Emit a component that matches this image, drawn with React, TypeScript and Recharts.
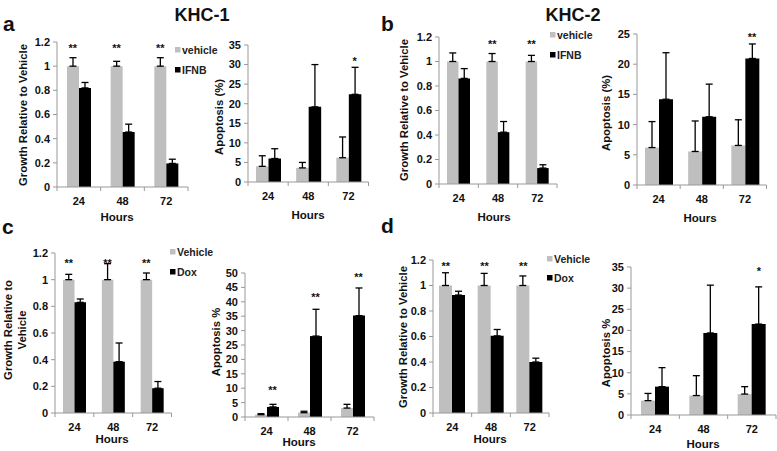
import React from "react";
import { Bar, ComposedChart, ErrorBar, Line, XAxis, YAxis } from "recharts";

const FONT = "'Liberation Sans', Arial, sans-serif";

const hours = ["24", "48", "72"];
const growthTicks = [0, 0.2, 0.4, 0.6, 0.8, 1, 1.2];
const ticks35 = [0, 5, 10, 15, 20, 25, 30, 35];
const ticks25 = [0, 5, 10, 15, 20, 25];
const ticks50 = [0, 5, 10, 15, 20, 25, 30, 35, 40, 45, 50];

// a: KHC-1, IFNB
const aGrowthVehicle = [1, 1, 1];
const aGrowthVehicleErr = [0.07, 0.04, 0.07];
const aGrowthIfnb = [0.82, 0.455, 0.195];
const aGrowthIfnbErr = [0.045, 0.065, 0.035];
const aGrowthStars = ["**", "**", "**"];
const aGrowthStarAt = [1.17, 1.17, 1.17];

const aApopVehicle = [4, 3.6, 6.2];
const aApopVehicleErr = [2.7, 1.4, 5.3];
const aApopIfnb = [6, 19.2, 22.4];
const aApopIfnbErr = [2.5, 10.8, 6.9];
const aApopStars = ["", "", "*"];
const aApopStarAt = [null, null, 31.5];

// b: KHC-2, IFNB
const bGrowthVehicle = [1, 1, 1];
const bGrowthVehicleErr = [0.07, 0.065, 0.05];
const bGrowthIfnb = [0.862, 0.423, 0.13];
const bGrowthIfnbErr = [0.08, 0.087, 0.027];
const bGrowthStars = ["", "**", "**"];
const bGrowthStarAt = [null, 1.16, 1.16];

const bApopVehicle = [6.2, 5.55, 6.55];
const bApopVehicleErr = [4.3, 5.05, 4.25];
const bApopIfnb = [14.2, 11.3, 20.95];
const bApopIfnbErr = [7.7, 5.4, 2.4];
const bApopStars = ["", "", "**"];
const bApopStarAt = [null, null, 24.9];

// c: KHC-1, Dox
const cGrowthVehicle = [1, 1, 1];
const cGrowthVehicleErr = [0.04, 0.12, 0.05];
const cGrowthDox = [0.83, 0.385, 0.186];
const cGrowthDoxErr = [0.025, 0.14, 0.05];
const cGrowthStars = ["**", "**", "**"];
const cGrowthStarAt = [1.137, 1.137, 1.137];

const cApopVehicle = [0.8, 1.5, 3.1];
const cApopVehicleErr = [0.35, 0.5, 1.3];
const cApopDox = [3.5, 28.1, 35.2];
const cApopDoxErr = [0.9, 9.3, 9.6];
const cApopStars = ["**", "**", "**"];
const cApopStarAt = [9.9, 42.4, 49.4];

// d: KHC-2, Dox
const dGrowthVehicle = [1, 1, 1];
const dGrowthVehicleErr = [0.1, 0.095, 0.075];
const dGrowthDox = [0.925, 0.605, 0.4];
const dGrowthDoxErr = [0.03, 0.05, 0.03];
const dGrowthStars = ["**", "**", "**"];
const dGrowthStarAt = [1.17, 1.17, 1.17];

const dApopVehicle = [3.4, 4.6, 4.95];
const dApopVehicleErr = [1.7, 4.7, 1.75];
const dApopDox = [6.7, 19.4, 21.5];
const dApopDoxErr = [4.5, 11.3, 8.8];
const dApopStars = ["", "", "*"];
const dApopStarAt = [null, null, 34.6];

const rows = (
  v: number[],
  ve: number[],
  t: number[],
  te: number[],
  s: string[],
  sAt: (number | null)[]
) =>
  hours.map((h, i) => ({
    h,
    v: v[i],
    ve: [0, ve[i]],
    t: t[i],
    te: [0, te[i]],
    s: s[i],
    sAt: sAt[i],
  }));

type Spec = {
  x0: number;
  y0: number;
  x1: number;
  y1: number;
  max: number;
  ticks: number[];
  barSize: number;
  starSide: "v" | "t";
  data: ReturnType<typeof rows>;
};

const panels: Spec[] = [
  { x0: 57, y0: 42, x1: 188, y1: 187, max: 1.2, ticks: growthTicks, barSize: 12, starSide: "v",
    data: rows(aGrowthVehicle, aGrowthVehicleErr, aGrowthIfnb, aGrowthIfnbErr, aGrowthStars, aGrowthStarAt) },
  { x0: 247.5, y0: 45, x1: 368, y1: 182, max: 35, ticks: ticks35, barSize: 12.5, starSide: "t",
    data: rows(aApopVehicle, aApopVehicleErr, aApopIfnb, aApopIfnbErr, aApopStars, aApopStarAt) },
  { x0: 439, y0: 37, x1: 557, y1: 184, max: 1.2, ticks: growthTicks, barSize: 11.5, starSide: "v",
    data: rows(bGrowthVehicle, bGrowthVehicleErr, bGrowthIfnb, bGrowthIfnbErr, bGrowthStars, bGrowthStarAt) },
  { x0: 636.5, y0: 34, x1: 766, y1: 185, max: 25, ticks: ticks25, barSize: 14, starSide: "t",
    data: rows(bApopVehicle, bApopVehicleErr, bApopIfnb, bApopIfnbErr, bApopStars, bApopStarAt) },
  { x0: 54.5, y0: 253, x1: 171, y1: 413, max: 1.2, ticks: growthTicks, barSize: 11.5, starSide: "v",
    data: rows(cGrowthVehicle, cGrowthVehicleErr, cGrowthDox, cGrowthDoxErr, cGrowthStars, cGrowthStarAt) },
  { x0: 245, y0: 273, x1: 374, y1: 417, max: 50, ticks: ticks50, barSize: 12, starSide: "t",
    data: rows(cApopVehicle, cApopVehicleErr, cApopDox, cApopDoxErr, cApopStars, cApopStarAt) },
  { x0: 433, y0: 260, x1: 549, y1: 413, max: 1.2, ticks: growthTicks, barSize: 13, starSide: "v",
    data: rows(dGrowthVehicle, dGrowthVehicleErr, dGrowthDox, dGrowthDoxErr, dGrowthStars, dGrowthStarAt) },
  { x0: 631, y0: 267, x1: 776, y1: 415, max: 35, ticks: ticks35, barSize: 14, starSide: "t",
    data: rows(dApopVehicle, dApopVehicleErr, dApopDox, dApopDoxErr, dApopStars, dApopStarAt) },
];

const AXIS = "#999";

function Panel({ p }: { p: Spec }) {
  const pw = p.x1 - p.x0;
  const ph = p.y1 - p.y0;
  const bw = pw / 3;
  const off = p.starSide === "v" ? -p.barSize / 2 : p.barSize / 2;

  const xTick = (props: any) => {
    const { x, y, payload, index } = props;
    return (
      <g>
        <line x1={x - bw / 2} y1={y} x2={x - bw / 2} y2={y + 4} stroke={AXIS} />
        {index === 2 && <line x1={x + bw / 2} y1={y} x2={x + bw / 2} y2={y + 4} stroke={AXIS} />}
        <text x={x} y={y + 18} textAnchor="middle" fontSize={11} fontWeight="bold" fontFamily={FONT} fill="#111">
          {payload.value}
        </text>
      </g>
    );
  };

  const star = (props: any) => {
    const { cx, cy, index, payload } = props;
    if (cy == null || isNaN(cy) || !payload || !payload.s) return <g key={index} />;
    return (
      <text key={index} x={cx + off} y={cy + 6} textAnchor="middle" fontSize={11} fontWeight="bold" fontFamily={FONT} fill="#111">
        {payload.s}
      </text>
    );
  };

  return (
    <div style={{ position: "absolute", left: p.x0 - 40, top: p.y0 - 12 }}>
      <ComposedChart
        width={pw + 44}
        height={ph + 38}
        data={p.data}
        margin={{ top: 12, right: 4, left: 0, bottom: 0 }}
        barGap={0}
        barSize={p.barSize}
      >
        <XAxis dataKey="h" height={26} interval={0} axisLine={{ stroke: AXIS }} tickLine={false} tickSize={0} tickMargin={0} tick={xTick} />
        <YAxis
          width={40}
          domain={[0, p.max]}
          ticks={p.ticks}
          interval={0}
          tickSize={4}
          tickMargin={3}
          axisLine={{ stroke: AXIS }}
          tickLine={{ stroke: AXIS }}
          tick={{ fontSize: 11, fontWeight: "bold", fill: "#111", fontFamily: FONT }}
          tickFormatter={(v: number) => String(v)}
        />
        <Bar dataKey="v" fill="#bfbfbf" isAnimationActive={false}>
          <ErrorBar dataKey="ve" width={3.5} stroke="#000" strokeWidth={1.3} direction="y" />
        </Bar>
        <Bar dataKey="t" fill="#000" isAnimationActive={false}>
          <ErrorBar dataKey="te" width={3.5} stroke="#000" strokeWidth={1.3} direction="y" />
        </Bar>
        <Line dataKey="sAt" stroke="none" isAnimationActive={false} activeDot={false} dot={star} legendType="none" />
      </ComposedChart>
    </div>
  );
}

const yTitles = [
  { x: 22, y: 115, t: "Growth Relative to Vehicle" },
  { x: 218, y: 117, t: "Apoptosis (%)" },
  { x: 403, y: 110, t: "Growth Relative to Vehicle" },
  { x: 605, y: 113, t: "Apoptosis (%)" },
  { x: 7, y: 330, t: "Growth Relative to" },
  { x: 21, y: 330, t: "Vehicle" },
  { x: 215, y: 342, t: "Apoptosis %" },
  { x: 402, y: 337, t: "Growth Relative to Vehicle" },
  { x: 605, y: 353, t: "Apoptosis %" },
];

const hourTitles = [
  { x: 117, y: 216 },
  { x: 308, y: 214 },
  { x: 494, y: 216 },
  { x: 700, y: 217 },
  { x: 112, y: 438 },
  { x: 299, y: 441 },
  { x: 490, y: 438 },
  { x: 703, y: 443 },
];

const legends = [
  { x: 175, y: 50, a: "vehicle", b: "IFNB", gap: 20 },
  { x: 550, y: 35, a: "vehicle", b: "IFNB", gap: 20 },
  { x: 170, y: 252, a: "Vehicle", b: "Dox", gap: 20 },
  { x: 547, y: 259, a: "Vehicle", b: "Dox", gap: 19 },
];

const letters = [
  { x: 3, y: 31, t: "a" },
  { x: 381, y: 31, t: "b" },
  { x: 2, y: 234, t: "c" },
  { x: 381, y: 233, t: "d" },
];

export default function App() {
  return (
    <div style={{ position: "absolute", left: 0, top: 0, width: 777, height: 451, background: "#fff", overflow: "hidden" }}>
      {panels.map((p, i) => (
        <Panel key={i} p={p} />
      ))}
      <svg width={777} height={451} style={{ position: "absolute", left: 0, top: 0, pointerEvents: "none" }} fontFamily={FONT}>
        <text x={202} y={21} textAnchor="middle" fontSize={18} fontWeight="bold" fill="#111">KHC-1</text>
        <text x={573} y={21} textAnchor="middle" fontSize={18} fontWeight="bold" fill="#111">KHC-2</text>
        {letters.map((l) => (
          <text key={l.t} x={l.x} y={l.y} fontSize={21} fontWeight="bold" fill="#111">{l.t}</text>
        ))}
        {yTitles.map((t, i) => (
          <text key={i} x={t.x} y={t.y + 4.5} textAnchor="middle" fontSize={11.3} fontWeight="bold" fill="#111" transform={`rotate(-90, ${t.x}, ${t.y})`}>
            {t.t}
          </text>
        ))}
        {hourTitles.map((h, i) => (
          <text key={i} x={h.x} y={h.y + 4.5} textAnchor="middle" fontSize={11.5} fontWeight="bold" fill="#111">Hours</text>
        ))}
        {legends.map((l, i) => (
          <g key={i}>
            <rect x={l.x} y={l.y - 3} width={5.5} height={5.5} fill="#bfbfbf" />
            <text x={l.x + 7} y={l.y + 4} fontSize={10.5} fontWeight="bold" fill="#222">{l.a}</text>
            <rect x={l.x} y={l.y + l.gap - 3} width={5.5} height={5.5} fill="#000" />
            <text x={l.x + 7} y={l.y + l.gap + 4} fontSize={10.5} fontWeight="bold" fill="#222">{l.b}</text>
          </g>
        ))}
      </svg>
    </div>
  );
}
